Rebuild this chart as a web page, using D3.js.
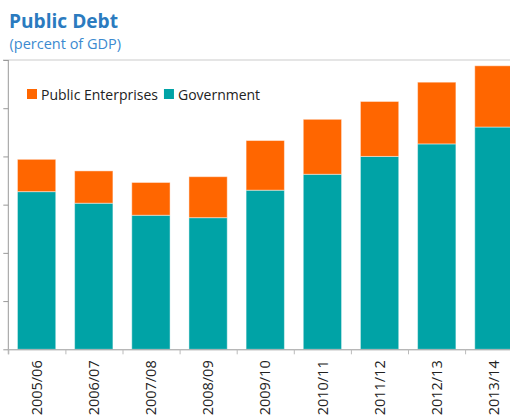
<!DOCTYPE html>
<html>
<head>
<meta charset="utf-8">
<script src="https://cdn.jsdelivr.net/npm/d3@7"></script>
<style>
  html, body { margin: 0; padding: 0; background: #fff; }
  svg { display: block; font-family: "Open Sans", "Noto Sans", sans-serif; }
</style>
</head>
<body>
<svg id="chart" width="510" height="415"></svg>
<script>
const categories = ["2005/06","2006/07","2007/08","2008/09","2009/10","2010/11","2011/12","2012/13","2013/14"];
const government = [32.7, 30.3, 27.8, 27.3, 33.0, 36.3, 40.0, 42.6, 46.1];
const publicEnterprises = [6.7, 6.7, 6.8, 8.5, 10.3, 11.4, 11.4, 12.8, 12.7];
const yTicks = [0, 10, 20, 30, 40, 50, 60];
const seriesNames = ["Public Enterprises", "Government"];
const colors = { "Public Enterprises": "#ff6600", "Government": "#00a3a6" };

const svg = d3.select("#chart");
const mLeft = 8.3, mRight = 522.2, mTop = 60, mBottom = 349.3;

const x = d3.scaleBand().domain(categories).range([mLeft, mRight]).paddingInner(0.33).paddingOuter(0.16);
const xEdges = d3.scaleLinear().domain([0, categories.length]).range([mLeft, mRight]);
const y = d3.scaleLinear().domain([0, 60]).range([mBottom, mTop]);

// title
svg.append("text").attr("x", 9).attr("y", 28).attr("fill", "#2b7bbf")
  .attr("font-weight", "bold").attr("font-size", 20).attr("textLength", 109)
  .attr("lengthAdjust", "spacingAndGlyphs").text("Public Debt");
svg.append("text").attr("x", 9.5).attr("y", 48.5).attr("fill", "#3b8ad0")
  .attr("font-size", 14.5).text("(percent of GDP)");

// top frame line
svg.append("line").attr("x1", 3).attr("x2", 510).attr("y1", y(60)).attr("y2", y(60))
  .attr("stroke", "#cccccc").attr("stroke-width", 1.2);

// stacked bars
const rows = categories.map((c, i) => ({ cat: c, "Government": government[i], "Public Enterprises": publicEnterprises[i] }));
const stack = d3.stack().keys(["Government", "Public Enterprises"]);
const layers = stack(rows);
svg.append("g").selectAll("g").data(layers).join("g")
  .attr("fill", d => colors[d.key])
  .selectAll("rect").data(d => d).join("rect")
  .attr("x", d => x(d.data.cat))
  .attr("width", x.bandwidth())
  .attr("y", d => y(d[1]))
  .attr("height", d => y(d[0]) - y(d[1]))
  .attr("stroke", "rgba(255,255,255,0.45)")
  .attr("stroke-width", 1);

// y axis
const yAxis = svg.append("g").attr("transform", `translate(${mLeft},0)`)
  .call(d3.axisLeft(y).tickValues(yTicks).tickSize(5).tickSizeOuter(0).tickFormat(""));
yAxis.select(".domain").remove();
yAxis.selectAll(".tick line").attr("stroke", "#999");
svg.append("line").attr("x1", mLeft).attr("x2", mLeft).attr("y1", y(60)).attr("y2", y(0) + 5)
  .attr("stroke", "#999");

// x axis with edge ticks
const xAxis = svg.append("g").attr("transform", `translate(0,${mBottom})`)
  .call(d3.axisBottom(xEdges).tickValues(d3.range(categories.length + 1)).tickSize(5).tickSizeOuter(0).tickFormat(""));
xAxis.select(".domain").attr("stroke", "#999");
xAxis.selectAll(".tick line").attr("stroke", "#bbb");

// x labels
const xLab = svg.append("g").attr("transform", `translate(0,${mBottom})`)
  .call(d3.axisBottom(x).tickSize(0).tickSizeOuter(0));
xLab.select(".domain").remove();
xLab.selectAll(".tick text")
  .attr("font-family", "'Open Sans', sans-serif")
  .attr("font-size", 14.5).attr("fill", "#222")
  .attr("transform", "rotate(-90)")
  .attr("text-anchor", "end")
  .attr("x", -11).attr("y", 0).attr("dy", "0.36em");

// legend
const legend = svg.append("g");
let lx = 27;
seriesNames.forEach(name => {
  const g = legend.append("g").attr("transform", `translate(${lx},89)`);
  g.append("rect").attr("width", 10).attr("height", 10).attr("fill", colors[name]);
  const t = g.append("text").attr("x", 14).attr("y", 10.5).attr("font-size", 14).attr("fill", "#222").text(name);
  lx += 14 + t.node().getComputedTextLength() + 6;
});
</script>
</body>
</html>
